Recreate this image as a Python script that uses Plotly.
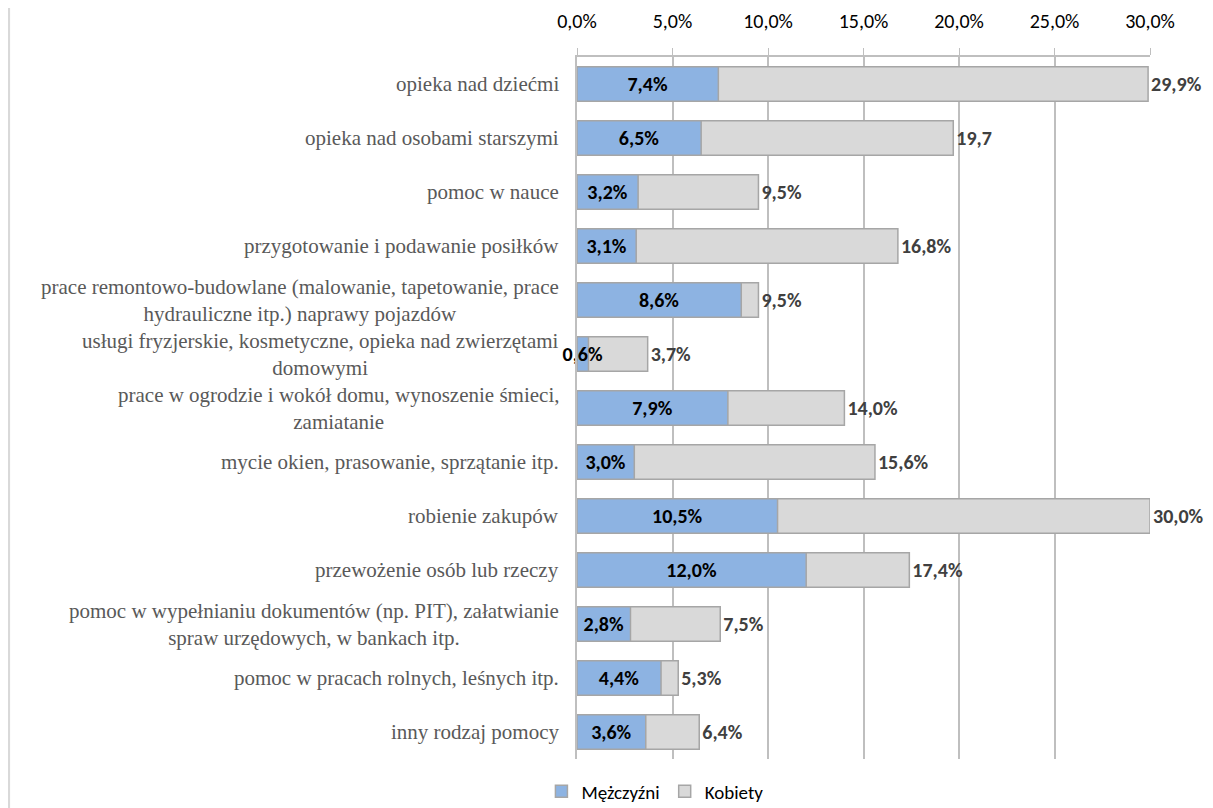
import plotly.graph_objects as go

categories = [
    "opieka nad dziećmi",
    "opieka nad osobami starszymi",
    "pomoc w nauce",
    "przygotowanie i podawanie posiłków",
    "prace remontowo-budowlane (malowanie, tapetowanie, prace<br>hydrauliczne itp.) naprawy pojazdów",
    "usługi fryzjerskie, kosmetyczne, opieka nad zwierzętami<br>domowymi",
    "prace w ogrodzie i wokół domu, wynoszenie śmieci,<br>zamiatanie",
    "mycie okien, prasowanie, sprzątanie itp.",
    "robienie zakupów",
    "przewożenie osób lub rzeczy",
    "pomoc w wypełnianiu dokumentów (np. PIT), załatwianie<br>spraw urzędowych, w bankach itp.",
    "pomoc w pracach rolnych, leśnych itp.",
    "inny rodzaj pomocy",
]
men = [7.4, 6.5, 3.2, 3.1, 8.6, 0.6, 7.9, 3.0, 10.5, 12.0, 2.8, 4.4, 3.6]
women = [29.9, 19.7, 9.5, 16.8, 9.5, 3.7, 14.0, 15.6, 30.0, 17.4, 7.5, 5.3, 6.4]
men_labels = ["7,4%", "6,5%", "3,2%", "3,1%", "8,6%", "0,6%", "7,9%", "3,0%", "10,5%", "12,0%", "2,8%", "4,4%", "3,6%"]
women_labels = ["29,9%", "19,7", "9,5%", "16,8%", "9,5%", "3,7%", "14,0%", "15,6%", "30,0%", "17,4%", "7,5%", "5,3%", "6,4%"]
tick_vals = [0, 5, 10, 15, 20, 25, 30]
tick_text = ["0,0%", "5,0%", "10,0%", "15,0%", "20,0%", "25,0%", "30,0%"]

ids = list(range(len(categories)))
num_font = "Carlito, Lato, sans-serif"

fig = go.Figure()
fig.add_trace(go.Bar(
    y=ids, x=women, orientation="h", name="Kobiety",
    marker=dict(color="#d9d9d9", line=dict(color="#a6a6a6", width=1.5)),
    text=women_labels, textposition="outside", cliponaxis=False,
    constraintext="none", textangle=0,
    textfont=dict(family=num_font, size=20, color="#404040", weight="bold"),
    legendrank=2,
))
fig.add_trace(go.Bar(
    y=ids, x=men, orientation="h", name="Mężczyźni",
    marker=dict(color="#8db3e2", line=dict(color="#a6a6a6", width=1.5)),
    text=men_labels, textposition="inside", insidetextanchor="middle",
    constraintext="none", cliponaxis=False, textangle=0,
    textfont=dict(family=num_font, size=20, color="#000000", weight="bold"),
    legendrank=1,
))

annotations = []
for i, c in enumerate(categories):
    annotations.append(dict(
        x=0, xref="paper", y=i, yref="y", text=c, showarrow=False,
        xanchor="right", yanchor="middle", align="center", xshift=-16,
        font=dict(family="Liberation Serif, Times New Roman, serif", size=21, color="#595959"),
    ))

fig.update_layout(
    width=1205, height=800,
    barmode="overlay", bargap=0.36,
    plot_bgcolor="white", paper_bgcolor="white",
    margin=dict(l=569, r=63, t=49, b=49, autoexpand=False),
    showlegend=True,
    legend=dict(orientation="h", x=0.136, xanchor="center", y=-0.046, yanchor="middle",
                font=dict(family=num_font, size=19, color="#000000"), itemwidth=30),
    annotations=annotations,
    shapes=[dict(type="line", xref="paper", yref="paper", x0=-0.992, x1=-0.992,
                 y0=-0.07, y1=1.07, line=dict(color="#d9d9d9", width=3))],
)
fig.update_xaxes(
    side="top", range=[0, 30], tickvals=tick_vals, ticktext=tick_text,
    showgrid=True, gridcolor="#bfbfbf", gridwidth=1.5,
    showline=True, linecolor="#bfbfbf", linewidth=1.5,
    ticks="outside", ticklen=7, tickcolor="#bfbfbf", ticklabelstandoff=12,
    tickfont=dict(family=num_font, size=20, color="#000000"),
    zeroline=False, automargin=False,
)
fig.update_yaxes(
    range=[len(categories) - 0.5, -0.5], showticklabels=False,
    showline=True, linecolor="#bfbfbf", linewidth=1.5, showgrid=False, zeroline=False,
    tickvals=ids, automargin=False,
)

fig.write_html("out.html")
